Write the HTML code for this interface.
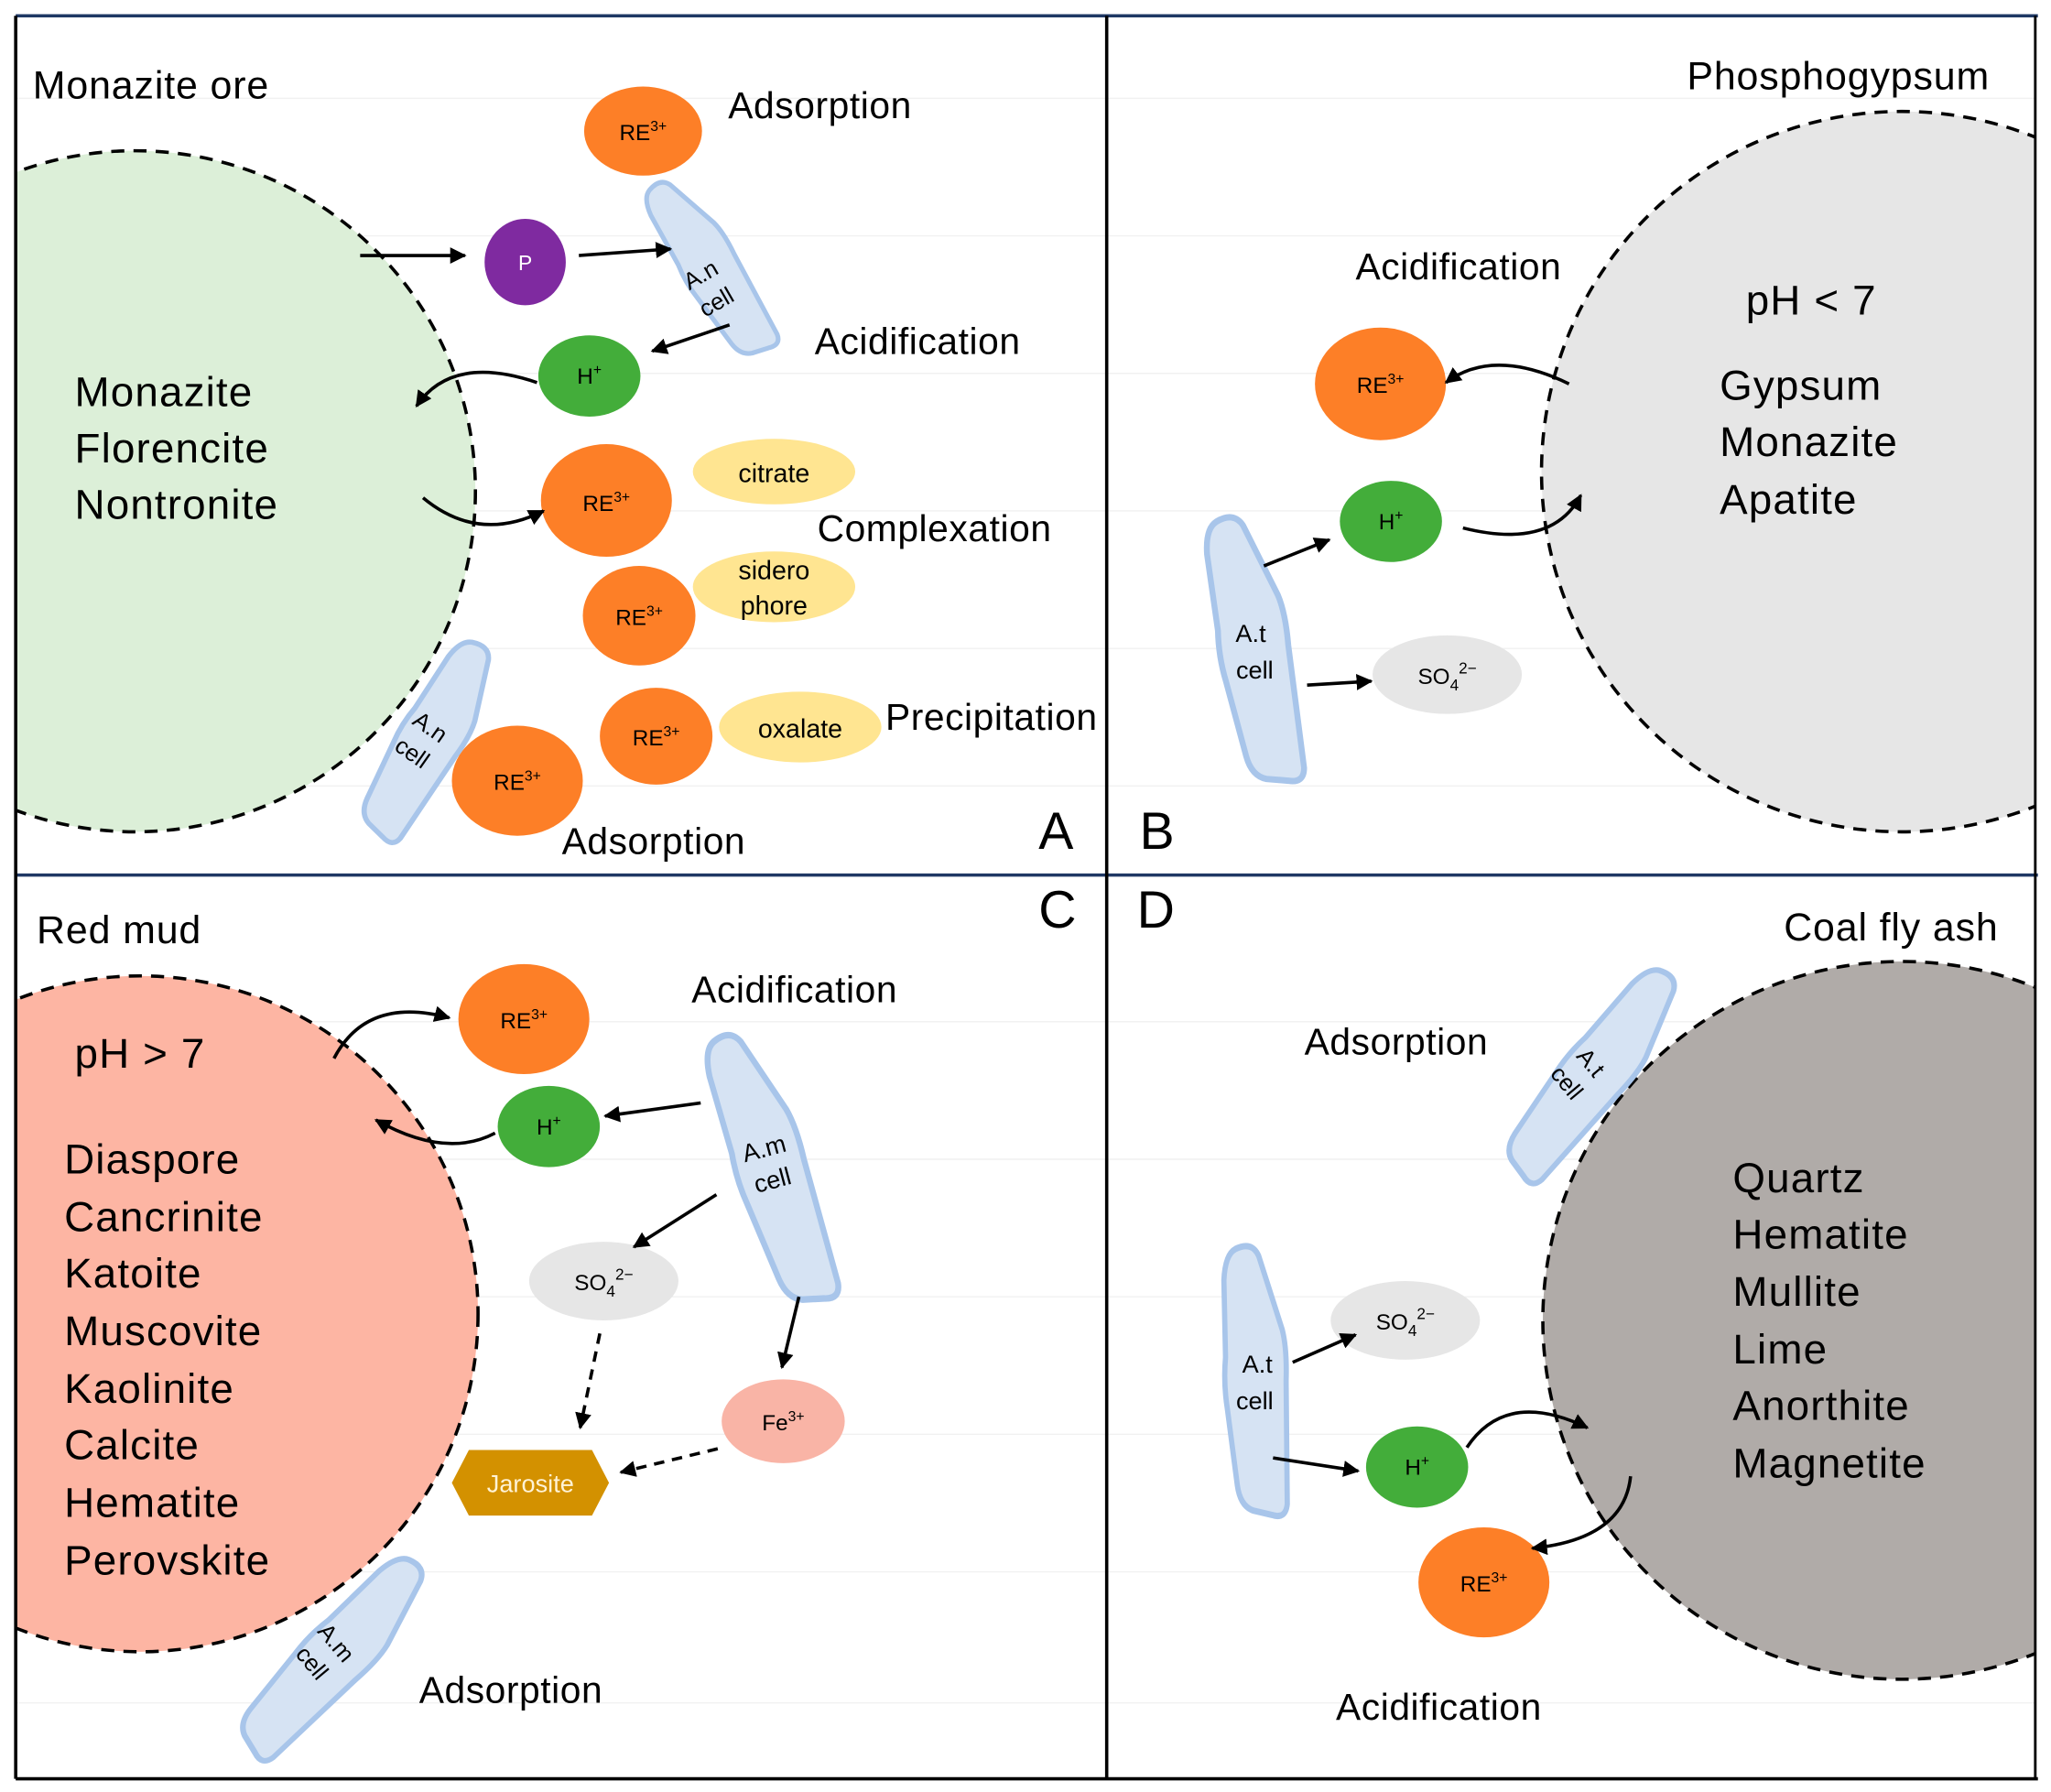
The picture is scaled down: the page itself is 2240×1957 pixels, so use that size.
<!DOCTYPE html>
<html><head><meta charset="utf-8"><style>
html,body{margin:0;padding:0;background:#fff}
svg{display:block}
text{font-family:"Liberation Sans",sans-serif;fill:#000}
.l{font-size:28.5px;letter-spacing:0.4px}
.m{font-size:32px;letter-spacing:0.8px}
.t{font-size:30px;letter-spacing:0.6px}
</style></head><body>
<svg width="2240" height="1957" viewBox="0 0 1566 1368" xmlns="http://www.w3.org/2000/svg">
<defs>
<marker id="ar" viewBox="0 0 10 10" refX="9" refY="5" markerWidth="5" markerHeight="5" orient="auto-start-reverse"><path d="M0,0 L10,5 L0,10 z" fill="#000"/></marker>
<clipPath id="cA"><rect x="12" y="12" width="833" height="656"/></clipPath>
<clipPath id="cB"><rect x="845" y="12" width="709" height="656"/></clipPath>
<clipPath id="cC"><rect x="12" y="668" width="833" height="690"/></clipPath>
<clipPath id="cD"><rect x="845" y="668" width="709" height="690"/></clipPath>
<path id="cell" d="M-14,-104 Q2,-110 8,-98 L28,-40 Q32,-25 30,0 L27,96 Q25,108 12,104 L-6,100 Q-18,96 -20,80 L-27,20 Q-30,0 -27,-20 L-26,-80 Q-24,-100 -14,-104 Z" fill="#d6e3f3" stroke="#a8c5ea" stroke-width="5" stroke-linejoin="round"/>
</defs>
<rect width="1566" height="1368" fill="#fff"/>
<g stroke="#f1f1f1" stroke-width="1">
<line x1="12" y1="75" x2="1554" y2="75"/><line x1="12" y1="180" x2="1554" y2="180"/><line x1="12" y1="285" x2="1554" y2="285"/><line x1="12" y1="390" x2="1554" y2="390"/><line x1="12" y1="495" x2="1554" y2="495"/><line x1="12" y1="600" x2="1554" y2="600"/><line x1="12" y1="780" x2="1554" y2="780"/><line x1="12" y1="885" x2="1554" y2="885"/><line x1="12" y1="990" x2="1554" y2="990"/><line x1="12" y1="1095" x2="1554" y2="1095"/><line x1="12" y1="1200" x2="1554" y2="1200"/><line x1="12" y1="1300" x2="1554" y2="1300"/>
</g>

<!-- Panel A -->
<g clip-path="url(#cA)">
<circle cx="103" cy="375" r="260" fill="#dcefd8" stroke="#000" stroke-width="2.5" stroke-dasharray="10,7"/>
</g>
<text x="25" y="75" class="t">Monazite ore</text>
<text x="57" y="310" class="m">Monazite</text>
<text x="57" y="353" class="m">Florencite</text>
<text x="57" y="396" class="m">Nontronite</text>
<ellipse cx="491" cy="100" rx="45" ry="34" fill="#fd7f27"/>
<text x="491" y="107" font-size="17" text-anchor="middle">RE<tspan font-size="11" dy="-7">3+</tspan></text>
<text x="556" y="90" class="l">Adsorption</text>
<g transform="translate(542,205) rotate(-30) scale(0.72,0.72)"><use href="#cell"/></g>
<text transform="translate(538,215) rotate(-30)" font-size="18" text-anchor="middle">A.n<tspan x="0" dy="24">cell</tspan></text>
<ellipse cx="401" cy="200" rx="31" ry="33" fill="#7f2aa0"/>
<text x="401" y="206" font-size="16" text-anchor="middle" style="fill:#fff">P</text>
<line x1="275" y1="195" x2="355" y2="195" stroke="#000" stroke-width="2.5" marker-end="url(#ar)"/>
<line x1="442" y1="195" x2="512" y2="190" stroke="#000" stroke-width="2.5" marker-end="url(#ar)"/>
<ellipse cx="450" cy="287" rx="39" ry="31" fill="#43ad3a"/>
<text x="450" y="293" font-size="17" text-anchor="middle">H<tspan font-size="11" dy="-7">+</tspan></text>
<line x1="557" y1="248" x2="498" y2="268" stroke="#000" stroke-width="2.5" marker-end="url(#ar)"/>
<path d="M410,292 Q345,270 318,310" fill="none" stroke="#000" stroke-width="2.5" marker-end="url(#ar)"/>
<text x="622" y="270" class="l">Acidification</text>
<ellipse cx="463" cy="382" rx="50" ry="43" fill="#fd7f27"/>
<text x="463" y="390" font-size="17" text-anchor="middle">RE<tspan font-size="11" dy="-7">3+</tspan></text>
<path d="M323,380 Q365,415 415,390" fill="none" stroke="#000" stroke-width="2.5" marker-end="url(#ar)"/>
<ellipse cx="591" cy="360" rx="62" ry="25" fill="#ffe591"/>
<text x="591" y="368" font-size="20" text-anchor="middle">citrate</text>
<text x="624" y="413" class="l">Complexation</text>
<ellipse cx="488" cy="470" rx="43" ry="38" fill="#fd7f27"/>
<text x="488" y="477" font-size="17" text-anchor="middle">RE<tspan font-size="11" dy="-7">3+</tspan></text>
<ellipse cx="591" cy="448" rx="62" ry="27" fill="#ffe591"/>
<text x="591" y="442" font-size="20" text-anchor="middle">sidero</text>
<text x="591" y="469" font-size="20" text-anchor="middle">phore</text>
<ellipse cx="501" cy="562" rx="43" ry="37" fill="#fd7f27"/>
<text x="501" y="569" font-size="17" text-anchor="middle">RE<tspan font-size="11" dy="-7">3+</tspan></text>
<ellipse cx="611" cy="555" rx="62" ry="27" fill="#ffe591"/>
<text x="611" y="563" font-size="20" text-anchor="middle">oxalate</text>
<text x="676" y="557" class="l">Precipitation</text>
<g transform="translate(327,565) rotate(32) scale(0.8,0.78)"><use href="#cell"/></g>
<text transform="translate(325,560) rotate(35)" font-size="18" text-anchor="middle">A.n<tspan x="0" dy="24">cell</tspan></text>
<ellipse cx="395" cy="596" rx="50" ry="42" fill="#fd7f27"/>
<text x="395" y="603" font-size="17" text-anchor="middle">RE<tspan font-size="11" dy="-7">3+</tspan></text>
<text x="429" y="652" class="l">Adsorption</text>
<text x="793" y="648" font-size="40">A</text>

<!-- Panel B -->
<g clip-path="url(#cB)">
<circle cx="1452" cy="360" r="275" fill="#e6e6e6" stroke="#000" stroke-width="2.5" stroke-dasharray="10,7"/>
</g>
<text x="1288" y="68" class="t">Phosphogypsum</text>
<text x="1035" y="213" class="l">Acidification</text>
<text x="1333" y="240" class="m">pH &lt; 7</text>
<text x="1313" y="305" class="m">Gypsum</text>
<text x="1313" y="348" class="m">Monazite</text>
<text x="1313" y="392" class="m">Apatite</text>
<ellipse cx="1054" cy="293" rx="50" ry="43" fill="#fd7f27"/>
<text x="1054" y="300" font-size="17" text-anchor="middle">RE<tspan font-size="11" dy="-7">3+</tspan></text>
<path d="M1198,293 Q1140,265 1104,292" fill="none" stroke="#000" stroke-width="2.5" marker-end="url(#ar)"/>
<ellipse cx="1062" cy="398" rx="39" ry="31" fill="#43ad3a"/>
<text x="1062" y="404" font-size="17" text-anchor="middle">H<tspan font-size="11" dy="-7">+</tspan></text>
<path d="M1117,403 Q1185,420 1207,378" fill="none" stroke="#000" stroke-width="2.5" marker-end="url(#ar)"/>
<g transform="translate(957,497) rotate(-9) scale(0.9,0.98)"><use href="#cell"/></g>
<text x="955" y="490" font-size="19" text-anchor="middle">A.t</text>
<text x="958" y="518" font-size="19" text-anchor="middle">cell</text>
<line x1="965" y1="432" x2="1015" y2="412" stroke="#000" stroke-width="2.5" marker-end="url(#ar)"/>
<line x1="998" y1="523" x2="1047" y2="520" stroke="#000" stroke-width="2.5" marker-end="url(#ar)"/>
<ellipse cx="1105" cy="515" rx="57" ry="30" fill="#e6e6e6"/>
<text x="1105" y="522" font-size="17" text-anchor="middle">SO<tspan font-size="12" dy="5">4</tspan><tspan font-size="12" dy="-13">2−</tspan></text>
<text x="870" y="648" font-size="40">B</text>

<!-- Panel C -->
<g clip-path="url(#cC)">
<circle cx="107" cy="1003" r="258" fill="#fdb5a3" stroke="#000" stroke-width="2.5" stroke-dasharray="10,7"/>
</g>
<text x="28" y="720" class="t">Red mud</text>
<text x="57" y="815" class="m">pH &gt; 7</text>
<g class="m">
<text x="49" y="896" class="m">Diaspore</text><text x="49" y="940" class="m">Cancrinite</text><text x="49" y="983" class="m">Katoite</text><text x="49" y="1027" class="m">Muscovite</text><text x="49" y="1071" class="m">Kaolinite</text><text x="49" y="1114" class="m">Calcite</text><text x="49" y="1158" class="m">Hematite</text><text x="49" y="1202" class="m">Perovskite</text>
</g>
<ellipse cx="400" cy="778" rx="50" ry="42" fill="#fd7f27"/>
<text x="400" y="785" font-size="17" text-anchor="middle">RE<tspan font-size="11" dy="-7">3+</tspan></text>
<path d="M255,808 Q280,760 343,777" fill="none" stroke="#000" stroke-width="2.5" marker-end="url(#ar)"/>
<ellipse cx="419" cy="860" rx="39" ry="31" fill="#43ad3a"/>
<text x="419" y="866" font-size="17" text-anchor="middle">H<tspan font-size="11" dy="-7">+</tspan></text>
<line x1="535" y1="842" x2="462" y2="852" stroke="#000" stroke-width="2.5" marker-end="url(#ar)"/>
<path d="M378,865 Q340,885 287,855" fill="none" stroke="#000" stroke-width="2.5" marker-end="url(#ar)"/>
<text x="528" y="765" class="l">Acidification</text>
<g transform="translate(588,893) rotate(-17) scale(0.9,1.02)"><use href="#cell"/></g>
<text transform="translate(585,883) rotate(-15)" font-size="19" text-anchor="middle">A.m<tspan x="0" dy="25">cell</tspan></text>
<ellipse cx="461" cy="978" rx="57" ry="30" fill="#e6e6e6"/>
<text x="461" y="985" font-size="17" text-anchor="middle">SO<tspan font-size="12" dy="5">4</tspan><tspan font-size="12" dy="-13">2−</tspan></text>
<line x1="547" y1="912" x2="484" y2="952" stroke="#000" stroke-width="2.5" marker-end="url(#ar)"/>
<ellipse cx="598" cy="1085" rx="47" ry="32" fill="#f9b4a6"/>
<text x="598" y="1092" font-size="17" text-anchor="middle">Fe<tspan font-size="11" dy="-7">3+</tspan></text>
<line x1="610" y1="990" x2="597" y2="1044" stroke="#000" stroke-width="2.5" marker-end="url(#ar)"/>
<line x1="458" y1="1018" x2="443" y2="1090" stroke="#000" stroke-width="2.5" stroke-dasharray="8,6" marker-end="url(#ar)"/>
<line x1="548" y1="1106" x2="474" y2="1124" stroke="#000" stroke-width="2.5" stroke-dasharray="8,6" marker-end="url(#ar)"/>
<polygon points="358,1107 452,1107 465,1132 452,1157 358,1157 345,1132" fill="#d39100"/>
<text x="405" y="1139" font-size="19" text-anchor="middle" style="fill:#fff3d6">Jarosite</text>
<g transform="translate(254,1265) rotate(45) scale(0.82,0.9)"><use href="#cell"/></g>
<text transform="translate(252,1258) rotate(50)" font-size="18" text-anchor="middle">A.m<tspan x="0" dy="24">cell</tspan></text>
<text x="320" y="1300" class="l">Adsorption</text>
<text x="793" y="708" font-size="40">C</text>

<!-- Panel D -->
<g clip-path="url(#cD)">
<circle cx="1452" cy="1008" r="274" fill="#b0aba8" stroke="#000" stroke-width="2.5" stroke-dasharray="10,7"/>
</g>
<text x="868" y="708" font-size="40">D</text>
<text x="1362" y="718" class="t">Coal fly ash</text>
<text x="996" y="805" class="l">Adsorption</text>
<g transform="translate(1216,820) rotate(40) scale(0.82,0.9)"><use href="#cell"/></g>
<text transform="translate(1210,815) rotate(50)" font-size="18" text-anchor="middle">A.t<tspan x="0" dy="24">cell</tspan></text>
<g>
<text x="1323" y="910" class="m">Quartz</text><text x="1323" y="953" class="m">Hematite</text><text x="1323" y="997" class="m">Mullite</text><text x="1323" y="1041" class="m">Lime</text><text x="1323" y="1084" class="m">Anorthite</text><text x="1323" y="1128" class="m">Magnetite</text>
</g>
<g transform="translate(958,1055) rotate(-2) scale(0.8,0.98)"><use href="#cell"/></g>
<text x="960" y="1048" font-size="19" text-anchor="middle">A.t</text>
<text x="958" y="1076" font-size="19" text-anchor="middle">cell</text>
<ellipse cx="1073" cy="1008" rx="57" ry="30" fill="#e6e6e6"/>
<text x="1073" y="1015" font-size="17" text-anchor="middle">SO<tspan font-size="12" dy="5">4</tspan><tspan font-size="12" dy="-13">2−</tspan></text>
<line x1="987" y1="1040" x2="1035" y2="1019" stroke="#000" stroke-width="2.5" marker-end="url(#ar)"/>
<ellipse cx="1082" cy="1120" rx="39" ry="31" fill="#43ad3a"/>
<text x="1082" y="1126" font-size="17" text-anchor="middle">H<tspan font-size="11" dy="-7">+</tspan></text>
<line x1="972" y1="1113" x2="1037" y2="1123" stroke="#000" stroke-width="2.5" marker-end="url(#ar)"/>
<path d="M1120,1105 Q1150,1060 1212,1090" fill="none" stroke="#000" stroke-width="2.5" marker-end="url(#ar)"/>
<ellipse cx="1133" cy="1208" rx="50" ry="42" fill="#fd7f27"/>
<text x="1133" y="1215" font-size="17" text-anchor="middle">RE<tspan font-size="11" dy="-7">3+</tspan></text>
<path d="M1245,1127 Q1240,1175 1170,1182" fill="none" stroke="#000" stroke-width="2.5" marker-end="url(#ar)"/>
<text x="1020" y="1313" class="l">Acidification</text>

<!-- Frame -->
<line x1="12" y1="12" x2="1556" y2="12" stroke="#1f3864" stroke-width="2.5"/>
<line x1="12" y1="668" x2="1556" y2="668" stroke="#1f3864" stroke-width="2.5"/>
<line x1="12" y1="1358" x2="1556" y2="1358" stroke="#000" stroke-width="2.5"/>
<line x1="12" y1="12" x2="12" y2="1358" stroke="#000" stroke-width="2.5"/>
<line x1="845" y1="12" x2="845" y2="1358" stroke="#000" stroke-width="2.5"/>
<line x1="1554" y1="12" x2="1554" y2="1358" stroke="#000" stroke-width="2"/>
</svg>
</body></html>
